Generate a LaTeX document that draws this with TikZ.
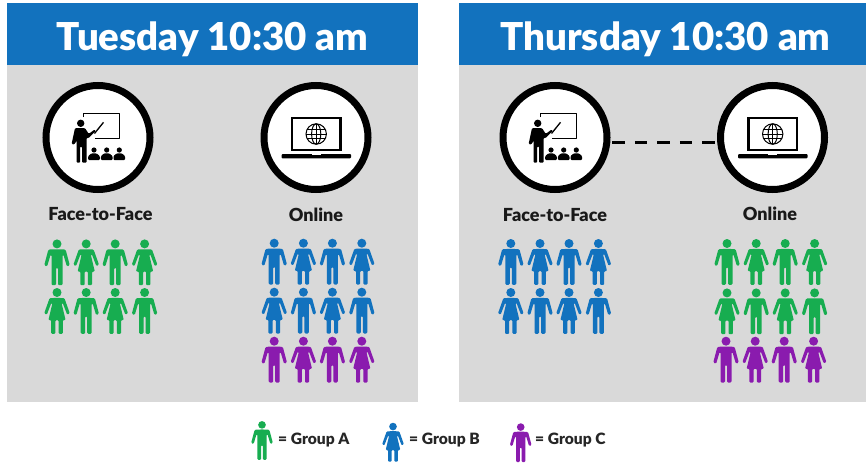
\documentclass[tikz,border=0pt]{standalone}
\usepackage{fontspec}
\setmainfont{Lato}
\newfontfamily\heavyfont{Lato Black}
\definecolor{hdrblue}{HTML}{1272BE}
\definecolor{grpgreen}{HTML}{17AD50}
\definecolor{grpblue}{HTML}{1272BE}
\definecolor{grppurple}{HTML}{8A1BAE}
\definecolor{panelgrey}{HTML}{D9D9D9}
\tikzset{
  panelbox/.style={fill=panelgrey,draw=none},
  hdrbox/.style={fill=hdrblue,draw=none},
  hdrtext/.style={text=white,font=\fontsize{38.4}{40}\selectfont\heavyfont,anchor=base,inner sep=0pt},
  modetext/.style={font=\fontsize{18}{20}\selectfont\heavyfont,anchor=base,inner sep=0pt,text=black!90},
  legtext/.style={font=\fontsize{15.6}{17}\selectfont\heavyfont,anchor=west,inner sep=0pt,text=black!85},
  modecircle/.style={circle,draw=black,fill=white,line width=7pt,minimum size=104pt,inner sep=0pt},
  linkline/.style={line width=3pt,dash pattern=on 12.5pt off 10pt,shorten <=2pt,shorten >=2pt},
  pics/figm/.style={code={
    \fill[#1] (0,4.2) circle (4.5);
    \fill[#1,rounded corners=1.2pt] (0,9.6) -- (8.6,9.8) -- (12.8,25.6) -- (9.9,26.8) -- (6.4,15) -- (5.5,15) -- (5.5,45.5) -- (1,45.5) -- (1,28) -- (-1,28) -- (-1,45.5) -- (-5.5,45.5) -- (-5.5,15) -- (-6.4,15) -- (-9.9,26.8) -- (-12.8,25.6) -- (-8.6,9.8) -- cycle;
  }},
  pics/figf/.style={code={
    \fill[#1] (0,4.2) circle (4.5);
    \fill[#1,rounded corners=1pt] (0,9.6) -- (7.4,9.8) -- (12.8,25) -- (10.2,26.4) -- (5.6,14.5) -- (4.6,15) -- (8.6,31.8) -- (5.8,31.8) -- (5.8,45.5) -- (1.6,45.5) -- (1.6,31.8) -- (-1.6,31.8) -- (-1.6,45.5) -- (-5.8,45.5) -- (-5.8,31.8) -- (-8.6,31.8) -- (-4.6,15) -- (-5.6,14.5) -- (-10.2,26.4) -- (-12.8,25) -- (-7.4,9.8) -- cycle;
  }},
  pics/teacher/.style={code={
    \draw[line width=1.5pt,line join=round] (-14.7,-20.5) -- (-14.7,-24.2) -- (21.3,-24.2) -- (21.3,0.8) -- (-3.5,0.8);
    \draw[line width=1.3pt] (-3.5,-4) -- (5.5,-15.2);
    \fill (-17.3,-14.2) circle (3.7);
    \fill[rounded corners=1pt] (-23,-9.4) -- (-13,-9.4) -- (-9.2,-3.6) -- (-3.4,-8) -- (-2.2,-6.6) -- (-9.6,0.8) -- (-11.4,0.2) -- (-11.4,25.2) -- (-16,25.2) -- (-16,9) -- (-17.8,9) -- (-17.8,25.2) -- (-21.4,25.2) -- (-21.4,3) -- (-23.6,7) -- (-26.4,6.5) -- cycle;
    \foreach \ax in {-4,8.7,21.3}{
      \fill (\ax,12.5) circle (2.6);
      \fill[rounded corners=1pt] (\ax-5.8,22.5) -- (\ax-5.8,18.5) -- (\ax-2.4,15.8) -- (\ax+2.4,15.8) -- (\ax+5.8,18.5) -- (\ax+5.8,22.5) -- cycle;
    }
  }},
  pics/laptop/.style={code={
    \draw[line width=2.4pt] (-24.2,-19.6) rectangle (24.6,12.4);
    \fill[rounded corners=1pt] (-34.5,16.5) rectangle (35,20.8);
    \fill[white] (-4.3,16.5) rectangle (4.7,17.8);
    \begin{scope}[shift={(0.2,-3.5)},line width=1pt]
      \draw (0,0) circle (10.2);
      \draw (0,0) ellipse (4.6 and 10.2);
      \draw (-10.2,0) -- (10.2,0);
      \draw (-9,-4.6) -- (9,-4.6);
      \draw (-9,4.6) -- (9,4.6);
      \draw (0,-10.2) -- (0,10.2);
    \end{scope}
  }}
}
\newcommand{\rowmf}[3]{%
  \pic at (#1,#2) {figm={#3}};
  \pic at (#1+29.2,#2) {figf={#3}};
  \pic at (#1+58.2,#2) {figm={#3}};
  \pic at (#1+87.6,#2) {figf={#3}};}
\newcommand{\rowfm}[3]{%
  \pic at (#1,#2) {figf={#3}};
  \pic at (#1+29.2,#2) {figm={#3}};
  \pic at (#1+58.2,#2) {figf={#3}};
  \pic at (#1+87.6,#2) {figm={#3}};}
\begin{document}
\begin{tikzpicture}[x=1pt,y=-1pt]
\useasboundingbox (0,0) rectangle (866,463);
\fill[white] (0,0) rectangle (866,463);
% panels
\fill[panelbox] (7,3) rectangle (418,402);
\fill[hdrbox] (7,3) rectangle (418,65);
\fill[panelbox] (459,3) rectangle (866,402);
\fill[hdrbox] (459,3) rectangle (866,65);
\node[hdrtext] (hd1) at (212.5,50) {Tuesday 10:30 am};
\node[hdrtext] (hd2) at (665.5,50) {Thursday 10:30 am};
% circles
\node[modecircle] (ff1) at (98,137.5) {};
\node[modecircle] (on1) at (316,137.5) {};
\node[modecircle] (ff2) at (555,137.5) {};
\node[modecircle] (on2) at (772.5,137.5) {};
\pic at (98,137.5) {teacher};
\pic at (316,137.5) {laptop};
\pic at (555,137.5) {teacher};
\pic at (772.5,137.5) {laptop};
\draw[linkline] (ff2.-5.4) -- (on2.185.4);
% labels
\node[modetext] (lf1) at (100.5,220) {Face-to-Face};
\node[modetext] (lo1) at (316,221) {Online};
\node[modetext] (lf2) at (555,221) {Face-to-Face};
\node[modetext] (lo2) at (770,220) {Online};
% people
\rowmf{57}{239.7}{grpgreen}
\rowfm{57}{288.3}{grpgreen}
\rowmf{274.2}{239}{grpblue}
\rowfm{274.2}{288}{grpblue}
\rowmf{274.2}{337}{grppurple}
\rowmf{510.8}{239.3}{grpblue}
\rowfm{510.8}{288.3}{grpblue}
\rowmf{727}{239.3}{grpgreen}
\rowfm{727}{288.7}{grpgreen}
\rowmf{726}{337}{grppurple}
% legend
\pic[scale=.85] at (262,421.3) {figm={grpgreen}};
\pic[scale=.85] at (393,423) {figf={grpblue}};
\pic[scale=.85] at (520.7,423.5) {figm={grppurple}};
\node[legtext] (la) at (278,440) {= Group A};
\node[legtext] (lb) at (409,440) {= Group B};
\node[legtext] (lc) at (535,440) {= Group C};
\end{tikzpicture}
\end{document}
